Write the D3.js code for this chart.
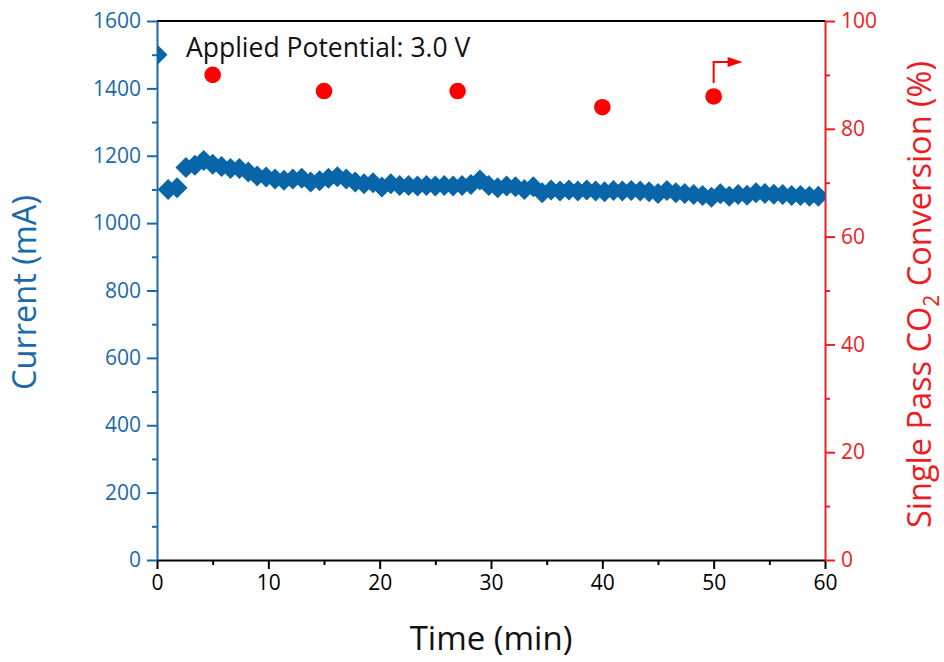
<!DOCTYPE html>
<html>
<head>
<meta charset="utf-8">
<script src="https://cdn.jsdelivr.net/npm/d3@7"></script>
<style>
  html, body { margin: 0; padding: 0; background: #fff; }
  svg { display: block; }
  text { font-family: "Open Sans", "Noto Sans", sans-serif; }
</style>
</head>
<body>
<svg id="chart" width="944" height="662"></svg>
<script>
// ---------------- data ----------------
const timeMin = [0, 1.0, 1.8, 2.6, 3.4, 4.2, 5.0, 5.8, 6.6, 7.4, 8.2, 9.0, 9.8, 10.6, 11.4, 12.2, 13.0, 13.8, 14.6,
  15.4, 16.2, 17.0, 17.8, 18.6, 19.4, 20.2, 21.0, 21.8, 22.6, 23.4, 24.2, 25.0, 25.8, 26.6, 27.4, 28.2, 29.0,
  29.8, 30.6, 31.4, 32.2, 33.0, 33.8, 34.6, 35.4, 36.2, 37.0, 37.8, 38.6, 39.4, 40.2, 41.0, 41.8, 42.6, 43.4,
  44.2, 45.0, 45.8, 46.6, 47.4, 48.2, 49.0, 49.8, 50.6, 51.4, 52.2, 53.0, 53.8, 54.6, 55.4, 56.2, 57.0, 57.8,
  58.6, 59.4];
const currentmA = [1500, 1100, 1105, 1165, 1172, 1186, 1175, 1168, 1162, 1162, 1152, 1140, 1137, 1131, 1127, 1131, 1133, 1122, 1126,
  1133, 1138, 1131, 1122, 1117, 1120, 1107, 1117, 1112, 1112, 1110, 1112, 1110, 1112, 1110, 1112, 1115, 1128,
  1112, 1105, 1110, 1108, 1100, 1108, 1090, 1098, 1095, 1098, 1095, 1098, 1095, 1093, 1097, 1095, 1097, 1095,
  1093, 1088, 1097, 1090, 1088, 1085, 1082, 1077, 1087, 1080, 1085, 1083, 1090, 1088, 1086, 1085, 1082, 1082,
  1080, 1080];
const convTime = [5, 15, 27, 40, 50];
const conversionPct = [90, 87, 87, 84, 86];
const xTicks = [0, 10, 20, 30, 40, 50, 60];
const yLeftTicks = [0, 200, 400, 600, 800, 1000, 1200, 1400, 1600];
const yRightTicks = [0, 20, 40, 60, 80, 100];
const annotationText = "Applied Potential: 3.0 V";
// arrow annotation (data units, right axis): [time, conversion]
const arrowPath = [[50, 88.5], [50, 92.4], [52.6, 92.4]];

// ---------------- layout ----------------
const W = 944, H = 662;
const m = { left: 157, right: 119, top: 21, bottom: 102 };
const pw = W - m.left - m.right, ph = H - m.top - m.bottom;
const BLUE = "#1a6aab", DBLUE = "#0865a8", RED = "#ee1c25", DOT = "#ff0000";

const svg = d3.select("#chart");
const g = svg.append("g").attr("transform", `translate(${m.left},${m.top})`);

const x = d3.scaleLinear().domain([0, 60]).range([0, pw]);
const yL = d3.scaleLinear().domain([0, 1600]).range([ph, 0]);
const yR = d3.scaleLinear().domain([0, 100]).range([ph, 0]);
const fmt = d3.format("d");

svg.append("defs").append("clipPath").attr("id", "clip")
  .append("rect").attr("x", 0).attr("y", 0).attr("width", pw).attr("height", ph);

// top frame
g.append("line").attr("x1", 0).attr("x2", pw).attr("y1", 0).attr("y2", 0)
  .attr("stroke", "#000").attr("stroke-width", 2);

function styleAxis(sel, color, fs) {
  sel.select(".domain").attr("stroke", color).attr("stroke-width", 2);
  sel.selectAll(".tick line").attr("stroke", color).attr("stroke-width", 2);
  sel.selectAll(".tick text").attr("fill", color).attr("font-size", fs)
     .attr("font-family", '"Open Sans", "Noto Sans", sans-serif');
}

// minor ticks
const xMinor = g.append("g").attr("transform", `translate(0,${ph})`)
  .call(d3.axisBottom(x).tickValues(d3.range(5, 60, 10)).tickSize(5).tickFormat(""));
styleAxis(xMinor, "#000", 20);
xMinor.select(".domain").remove();

const yLMinor = g.append("g")
  .call(d3.axisLeft(yL).tickValues(d3.range(100, 1600, 200)).tickSize(5).tickFormat(""));
styleAxis(yLMinor, BLUE, 20);
yLMinor.select(".domain").remove();

const yRMinor = g.append("g").attr("transform", `translate(${pw},0)`)
  .call(d3.axisRight(yR).tickValues(d3.range(10, 100, 20)).tickSize(5).tickFormat(""));
styleAxis(yRMinor, RED, 20);
yRMinor.select(".domain").remove();

// major axes
const xAx = g.append("g").attr("transform", `translate(0,${ph})`)
  .call(d3.axisBottom(x).tickValues(xTicks).tickFormat(fmt).tickSize(9).tickSizeOuter(0).tickPadding(6));
styleAxis(xAx, "#000", 21);

const yLAx = g.append("g")
  .call(d3.axisLeft(yL).tickValues(yLeftTicks).tickFormat(fmt).tickSize(10).tickSizeOuter(0).tickPadding(6));
styleAxis(yLAx, BLUE, 21);

const yRAx = g.append("g").attr("transform", `translate(${pw},0)`)
  .call(d3.axisRight(yR).tickValues(yRightTicks).tickFormat(fmt).tickSize(10).tickSizeOuter(0).tickPadding(6));
styleAxis(yRAx, RED, 21);

// diamonds
const r = 10.5;
const diamond = `M0,${-r}L${r},0L0,${r}L${-r},0Z`;
g.append("g").attr("clip-path", "url(#clip)")
  .selectAll("path").data(timeMin.map((t, i) => [t, currentmA[i]]))
  .join("path")
  .attr("d", diamond)
  .attr("transform", d => `translate(${x(d[0])},${yL(d[1])})`)
  .attr("fill", DBLUE);

// red circles
g.append("g").selectAll("circle").data(convTime.map((t, i) => [t, conversionPct[i]]))
  .join("circle")
  .attr("cx", d => x(d[0])).attr("cy", d => yR(d[1])).attr("r", 8.3)
  .attr("fill", DOT);

// arrow
const arrowPts = arrowPath.map(p => [x(p[0]), yR(p[1])]);
const last = arrowPts[arrowPts.length - 1];
g.append("path")
  .attr("d", d3.line()(arrowPts.slice(0, -1).concat([[last[0] - 10, last[1]]])))
  .attr("fill", "none").attr("stroke", DOT).attr("stroke-width", 2);
g.append("path")
  .attr("d", `M${last[0]},${last[1]}L${last[0] - 15},${last[1] - 5}L${last[0] - 15},${last[1] + 5}Z`)
  .attr("fill", DOT);

// annotation text
g.append("text").attr("x", 29).attr("y", 36)
  .attr("font-size", 26.5).attr("fill", "#111").text(annotationText);

// axis titles
svg.append("text")
  .attr("transform", `translate(36,${m.top + ph / 2 + 2}) rotate(-90)`)
  .attr("text-anchor", "middle").attr("font-size", 32.5).attr("fill", BLUE)
  .text("Current (mA)");

svg.append("text")
  .attr("x", m.left + pw / 2).attr("y", 650)
  .attr("text-anchor", "middle").attr("font-size", 33).attr("fill", "#111")
  .text("Time (min)");

const rt = svg.append("text")
  .attr("transform", `translate(931,${m.top + ph / 2 + 4}) rotate(-90)`)
  .attr("text-anchor", "middle").attr("font-size", 32.5).attr("fill", RED);
rt.append("tspan").text("Single Pass CO");
rt.append("tspan").attr("font-size", 21).attr("dy", 8).text("2");
rt.append("tspan").attr("dy", -8).text(" Conversion (%)");
</script>
</body>
</html>
